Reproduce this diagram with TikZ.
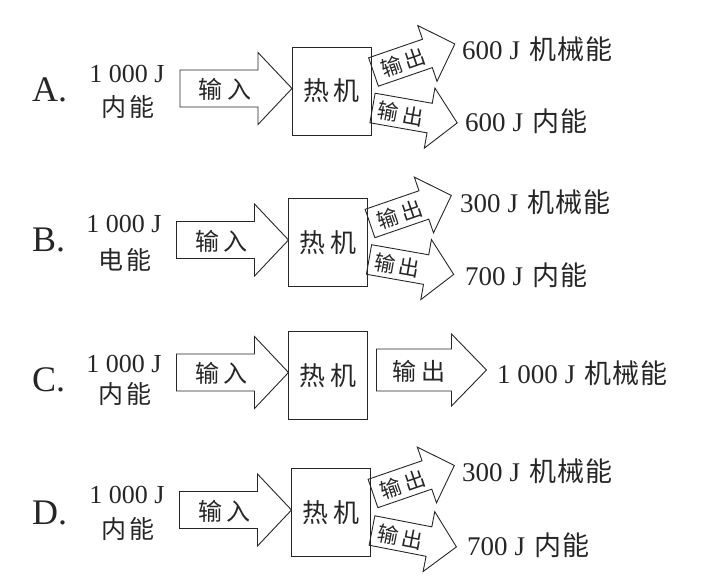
\documentclass[tikz,border=0pt]{standalone}
\usepackage{fontspec}
\usetikzlibrary{calc}
\setmainfont{Liberation Serif}
\newfontfamily\cjk{Noto Sans CJK SC}
% #1 name of text node, #2 tail point, #3 angle, #4 length, #5 shaft half width,
% #6 head half width, #7 head length, #8 text position along axis, #9 text
\newcommand\fatarr[9]{%
  \begin{scope}[shift={#2}, rotate=#3]
    \draw[arrbody] (0,-#5) -- ({#4-#7},-#5) -- ({#4-#7},-#6) -- (#4,0)
      -- ({#4-#7},#6) -- ({#4-#7},#5) -- (0,#5) -- cycle;
    \node[arrtext, rotate=#3] (#1) at (#8,1) {#9};
  \end{scope}}
\tikzset{
  arrbody/.style={draw=black!85, line width=0.9pt, line join=miter},
  arrtext/.style={font=\cjk\fontsize{24}{24}\selectfont, text=black!85, inner sep=0pt},
  slanttext/.style={font=\cjk\fontsize{21}{21}\selectfont},
  engine/.style={draw=black!85, line width=0.9pt, minimum width=79pt, minimum height=88pt,
    inner sep=0pt, outer sep=0pt, font=\cjk\fontsize{26}{26}\selectfont, text=black!85},
  optlbl/.style={font=\fontsize{36}{36}\selectfont, text=black!85, inner sep=0pt, anchor=west},
  numlbl/.style={font=\fontsize{26}{26}\selectfont, text=black!85, inner sep=0pt},
  cjklbl/.style={font=\cjk\fontsize{25}{25}\selectfont, text=black!85, inner sep=0pt},
  outlbl/.style={font=\fontsize{27}{27}\selectfont, text=black!85, inner sep=0pt, anchor=west},
}
\newcommand\cj[1]{{\cjk\fontsize{27}{27}\selectfont #1}}
\newcommand\sout{{\cjk\fontsize{21}{21}\selectfont 输\hspace{4pt}出}}
\begin{document}
\begin{tikzpicture}[x=1pt,y=-1pt]
\useasboundingbox (0,0) rectangle (709,585);

% ---------- A ----------
\node[optlbl] (lA) at (32,89.5) {A.};
\node[numlbl] (eA) at (127,73.5) {1 000 J};
\node[cjklbl] (kA) at (127.5,107.5) {内\hspace{3pt}能};
\node[engine] (boxA) at (331.5,91) {热\hspace{5pt}机};
\fatarr{inA}{($(boxA.west)+(-112,-2.5)$)}{0}{112}{18.5}{36}{34}{45}{输\hspace{5pt}入}
\fatarr{oA1}{($(boxA.east)+(2.5,-19)$)}{19}{86}{15}{29.5}{29}{31}{\sout}
\fatarr{oA2}{($(boxA.east)+(1.5,17)$)}{-10}{86}{15}{30.5}{28}{29}{\sout}
\node[outlbl] (rA1) at (462,49) {600\hspace{7pt}J\hspace{9pt}\cj{机\hspace{1pt}械\hspace{1pt}能}};
\node[outlbl] (rA2) at (465,121) {600\hspace{7pt}J\hspace{9pt}\cj{内\hspace{1pt}能}};

% ---------- B ----------
\node[optlbl] (lB) at (32,240) {B.};
\node[numlbl] (eB) at (124,224) {1 000 J};
\node[cjklbl] (kB) at (125,260) {电\hspace{3pt}能};
\node[engine] (boxB) at (328,242.5) {热\hspace{5pt}机};
\fatarr{inB}{($(boxB.west)+(-112,-2.5)$)}{0}{112}{18.5}{36}{34}{45}{输\hspace{5pt}入}
\fatarr{oB1}{($(boxB.east)+(2.5,-19)$)}{19}{86}{15}{29.5}{29}{31}{\sout}
\fatarr{oB2}{($(boxB.east)+(1.5,17)$)}{-10}{86}{15}{30.5}{28}{29}{\sout}
\node[outlbl] (rB1) at (460,202) {300\hspace{7pt}J\hspace{9pt}\cj{机\hspace{1pt}械\hspace{1pt}能}};
\node[outlbl] (rB2) at (465,275) {700\hspace{7pt}J\hspace{9pt}\cj{内\hspace{1pt}能}};

% ---------- C ----------
\node[optlbl] (lC) at (32,380) {C.};
\node[numlbl] (eC) at (124,364) {1 000 J};
\node[cjklbl] (kC) at (125,394) {内\hspace{3pt}能};
\node[engine] (boxC) at (328,375.5) {热\hspace{5pt}机};
\fatarr{inC}{($(boxC.west)+(-112,-3)$)}{0}{112}{18.5}{36}{34}{45}{输\hspace{5pt}入}
\fatarr{oC}{($(boxC.east)+(9,-5.5)$)}{0}{110}{21}{36}{35}{42.5}{输\hspace{5pt}出}
\node[outlbl] (rC) at (497,373) {1 000\hspace{7pt}J\hspace{9pt}\cj{机\hspace{1pt}械\hspace{1pt}能}};

% ---------- D ----------
\node[optlbl] (lD) at (32,512.5) {D.};
\node[numlbl] (eD) at (127,495) {1 000 J};
\node[cjklbl] (kD) at (127.5,529) {内\hspace{3pt}能};
\node[engine] (boxD) at (331,512.5) {热\hspace{5pt}机};
\fatarr{inD}{($(boxD.west)+(-112,-2.5)$)}{0}{112}{18.5}{36}{34}{45}{输\hspace{5pt}入}
\fatarr{oD1}{($(boxD.east)+(2.5,-19)$)}{19}{86}{15}{29.5}{29}{31}{\sout}
\fatarr{oD2}{($(boxD.east)+(1.5,18)$)}{-11}{86}{15}{30.5}{28}{29}{\sout}
\node[outlbl] (rD1) at (462,471) {300\hspace{7pt}J\hspace{9pt}\cj{机\hspace{1pt}械\hspace{1pt}能}};
\node[outlbl] (rD2) at (467,545) {700\hspace{7pt}J\hspace{9pt}\cj{内\hspace{1pt}能}};
\end{tikzpicture}
\end{document}
